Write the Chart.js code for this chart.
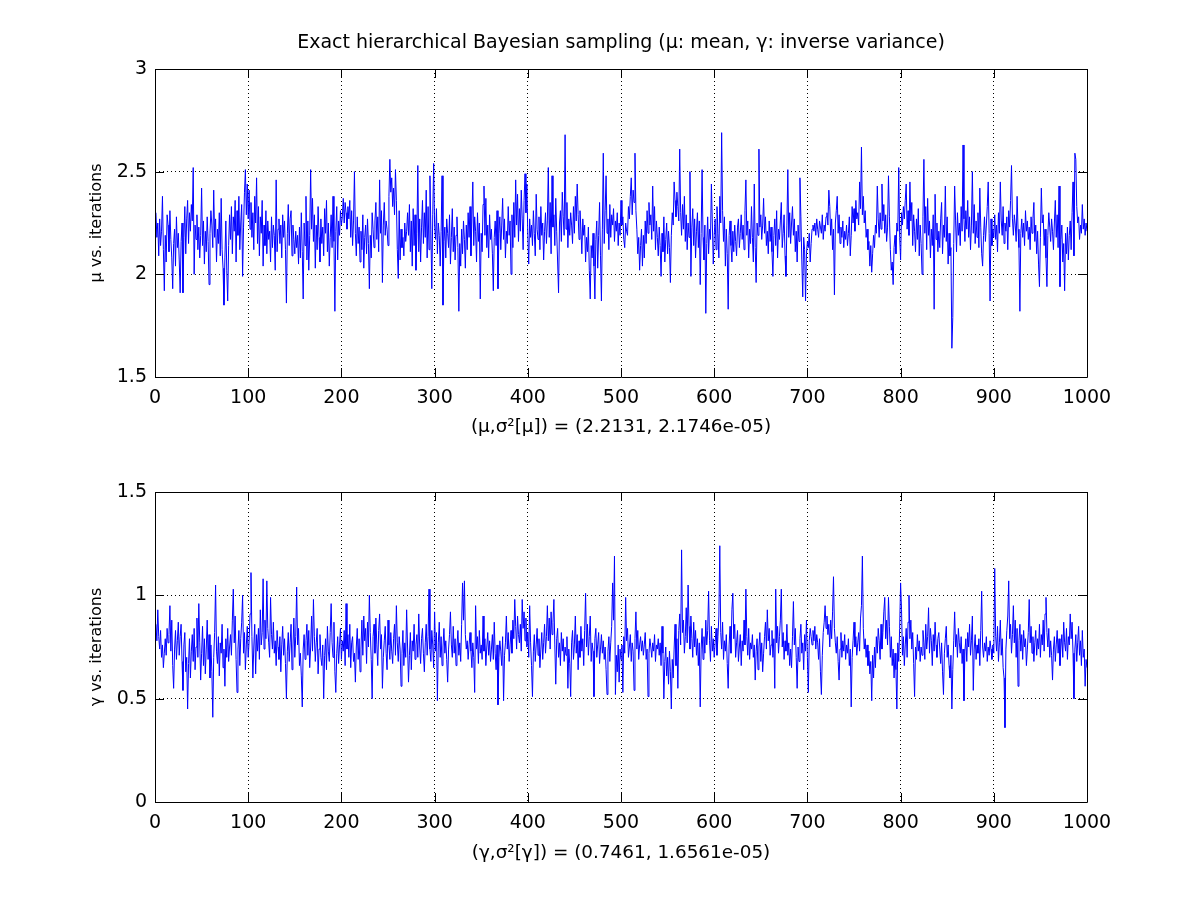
<!DOCTYPE html>
<html>
<head>
<meta charset="utf-8">
<title>Exact hierarchical Bayesian sampling</title>
<script src="https://cdn.jsdelivr.net/npm/chart.js@4.4.0/dist/chart.umd.min.js"></script>
<style>
    html, body { margin: 0; padding: 0; background: #ffffff; }
    #wrap { position: relative; width: 1200px; height: 901px; background: #ffffff; overflow: hidden; }
    canvas { position: absolute; left: 0; }
    #muChart { top: 0; }
    #gammaChart { top: 450px; }
</style>
</head>
<body>
<div id="wrap">
    <canvas id="muChart" width="1200" height="450"></canvas>
    <canvas id="gammaChart" width="1200" height="425"></canvas>
</div>
<script>
// Tick labels
const iterTicks = [0, 100, 200, 300, 400, 500, 600, 700, 800, 900, 1000];
const muTicks = [1.5, 2, 2.5, 3];
const gammaTicks = [0, 0.5, 1, 1.5];

// Text
const mainTitle = 'Exact hierarchical Bayesian sampling (\u03bc: mean, \u03b3: inverse variance)';
const muYLabel = '\u03bc vs. iterations';
const muXLabel = '(\u03bc,\u03c3\u00b2[\u03bc]) = (2.2131, 2.1746e-05)';
const gammaYLabel = '\u03b3 vs. iterations';
const gammaXLabel = '(\u03b3,\u03c3\u00b2[\u03b3]) = (0.7461, 1.6561e-05)';

// mu samples, iterations 1..1000
const muValues = [
    2.30,2.18,2.25,2.09,2.27,2.14,2.21,2.38,2.12,1.92,2.19,2.06,2.29,2.24,2.11,2.31,2.17,2.08,1.93,2.15,
    2.22,2.04,2.28,2.13,2.20,2.07,1.91,2.16,2.25,1.91,2.18,2.33,2.10,2.27,2.36,2.15,2.30,2.21,2.34,2.26,
    2.52,2.00,2.24,2.17,2.29,2.12,2.23,2.08,2.19,2.42,2.14,2.26,2.05,2.21,2.11,2.28,2.16,1.95,2.20,2.31,
    2.24,2.13,2.41,2.18,2.27,2.06,2.22,2.15,2.30,2.09,2.37,2.12,2.03,1.85,2.08,2.26,2.02,1.87,2.14,2.29,
    2.17,2.33,2.10,2.28,2.21,2.36,2.06,2.31,2.19,2.38,2.12,2.25,2.34,1.99,2.23,2.40,2.51,2.29,2.44,2.27,
    2.41,2.22,2.35,2.18,2.30,2.12,2.38,2.25,2.47,2.15,2.33,2.09,2.28,2.20,2.36,2.04,2.24,2.14,2.31,2.10,
    2.26,2.17,2.21,2.06,2.28,2.13,2.24,2.19,2.02,2.46,2.11,2.22,2.27,2.15,2.24,2.08,2.29,2.18,2.26,2.12,
    1.86,2.20,2.34,2.14,2.27,2.31,2.09,2.24,2.17,2.10,2.21,2.13,2.19,2.05,2.23,2.08,2.30,2.11,1.88,2.25,
    2.14,2.38,2.07,2.26,2.02,2.19,2.51,2.22,2.37,2.16,2.29,2.03,2.24,2.12,2.33,2.18,2.06,2.27,2.15,2.23,
    2.09,2.32,2.20,2.36,2.11,2.25,2.04,2.18,2.29,2.13,2.38,2.16,1.82,2.21,2.33,2.07,2.26,2.19,2.31,2.24,
    2.28,2.37,2.25,2.35,2.30,2.22,2.33,2.27,2.36,2.18,2.31,2.14,2.26,2.50,2.20,2.09,2.28,2.15,2.23,2.06,
    2.21,2.12,2.29,2.03,2.18,2.24,2.10,2.27,2.15,1.93,2.19,2.08,2.30,2.22,2.13,2.26,2.35,2.17,2.28,2.11,
    2.46,2.20,2.31,1.96,2.24,2.35,2.19,2.26,2.22,2.14,2.38,2.56,2.40,2.47,2.33,2.42,2.29,2.51,2.36,2.12,
    1.98,2.31,2.07,2.22,2.13,2.18,2.09,2.25,2.16,2.21,2.30,2.19,2.34,2.11,2.26,2.04,2.32,2.14,2.29,2.02,
    2.20,2.53,2.11,2.27,2.06,2.23,2.36,2.15,2.30,2.18,2.41,2.08,2.33,2.12,2.48,2.22,1.93,2.29,2.54,2.24,
    2.17,2.32,2.10,2.25,2.19,2.04,2.21,2.48,1.85,2.16,2.23,2.08,2.27,2.20,2.13,2.29,2.05,2.18,2.32,2.11,
    2.23,2.07,2.19,2.28,2.13,1.82,2.15,2.04,2.22,2.10,2.26,2.17,2.03,2.24,2.12,2.30,2.18,2.33,2.09,2.27,
    2.45,2.14,2.28,2.21,2.06,2.30,2.16,2.25,1.88,2.20,2.11,2.34,2.43,2.19,2.37,2.13,2.24,2.08,2.29,2.17,
    2.22,2.10,1.92,2.18,2.26,2.14,2.31,1.93,2.20,2.28,2.12,2.24,2.37,2.17,2.27,2.08,2.21,2.15,2.33,2.19,
    2.26,2.00,2.29,2.13,2.35,2.18,2.46,2.24,2.39,2.16,2.32,2.21,2.41,2.27,2.12,2.36,2.49,2.30,2.44,2.19,
    2.05,2.27,2.18,2.24,2.14,2.31,2.20,2.09,2.39,2.22,2.17,2.28,2.12,2.33,2.19,2.25,2.07,2.21,2.30,2.15,
    2.26,2.52,2.18,2.35,2.10,2.48,2.23,2.29,2.14,2.37,2.21,2.06,1.91,2.25,2.31,2.16,2.40,2.28,2.19,2.68,
    2.22,2.35,2.13,2.27,2.19,2.30,2.24,2.15,2.33,2.20,2.38,2.26,2.44,2.29,2.17,2.31,2.22,2.10,2.27,2.19,
    2.24,2.06,2.18,2.11,2.23,2.02,1.88,2.14,2.08,2.20,2.04,1.88,2.17,2.26,2.03,2.19,2.35,2.09,1.87,2.22,
    2.59,2.15,2.31,2.48,2.20,2.27,2.12,2.34,2.18,2.29,2.24,2.32,2.16,2.26,2.21,2.30,2.14,2.25,2.19,2.36,
    2.24,2.28,2.17,2.13,2.25,2.21,2.19,2.33,2.27,2.38,2.47,2.29,2.41,2.35,2.59,2.31,2.22,2.10,2.18,2.02,
    2.14,2.22,2.04,2.19,2.08,2.26,2.15,2.31,2.20,2.35,2.24,2.29,2.17,2.43,2.21,2.33,2.12,2.26,2.18,2.09,
    2.23,2.14,1.99,2.20,2.11,2.28,2.06,2.17,2.25,2.10,2.21,2.13,1.96,2.19,2.30,2.24,2.45,2.36,2.28,2.40,
    2.33,2.26,2.61,2.30,2.19,2.34,2.22,2.38,2.16,2.29,2.12,2.25,2.18,2.50,1.99,2.23,2.32,2.14,2.27,2.08,
    2.21,2.30,2.13,2.26,1.95,2.20,2.51,2.18,2.07,2.24,1.81,2.15,2.28,2.10,2.22,2.17,2.44,2.25,2.05,2.19,
    2.27,2.12,2.33,2.20,2.08,2.38,2.25,2.69,2.31,2.16,2.28,2.04,2.22,2.10,1.83,2.19,2.26,2.14,2.06,2.21,
    2.11,2.24,2.16,2.09,2.23,2.27,2.13,2.20,2.29,2.17,2.24,2.12,2.31,2.46,2.19,2.26,2.08,2.22,2.15,2.33,
    2.18,2.06,2.44,2.13,1.96,2.25,2.19,2.61,2.23,2.29,2.17,2.24,2.37,2.20,2.28,2.14,2.21,2.10,2.26,2.16,
    2.23,2.11,1.99,2.19,2.27,2.14,2.31,2.08,2.22,2.17,2.26,2.35,2.13,2.20,2.29,2.09,1.99,2.24,2.51,2.18,
    2.30,2.15,2.25,2.33,2.19,2.27,2.11,2.21,2.06,2.24,2.16,2.47,2.28,2.07,1.89,2.18,2.12,1.87,2.10,2.16,
    2.13,2.20,2.06,2.15,2.22,2.24,2.21,2.25,2.19,2.27,2.22,2.18,2.26,2.23,2.20,2.29,2.17,2.24,2.21,2.28,
    2.30,2.24,2.41,2.33,2.19,2.27,2.12,2.22,1.90,2.25,2.31,2.38,2.20,2.29,2.15,2.23,2.18,2.26,2.13,2.21,
    2.17,2.24,2.14,2.20,2.28,2.09,2.19,2.33,2.25,2.32,2.21,2.36,2.27,2.30,2.24,2.45,2.32,2.62,2.29,2.38,
    2.25,2.31,2.18,2.22,2.12,2.16,2.04,2.14,2.01,2.10,2.19,2.13,2.24,2.20,2.43,2.27,2.18,2.30,2.22,2.44,
    2.26,2.34,2.20,2.29,2.16,2.23,2.48,2.28,2.12,2.02,2.06,1.95,2.13,2.19,2.10,2.25,2.21,2.52,2.18,2.07,
    2.30,2.24,2.33,2.27,2.36,2.44,2.22,2.31,2.19,2.45,2.26,2.35,2.14,2.29,2.21,2.11,2.27,2.17,2.32,2.09,
    2.24,2.15,2.00,2.28,2.56,2.20,2.33,2.12,2.37,2.19,2.26,2.08,2.22,2.14,2.29,1.83,2.39,2.17,2.25,2.11,
    2.21,2.13,2.27,2.35,2.10,2.24,2.18,2.43,2.16,2.28,2.05,2.20,2.09,2.13,1.64,1.79,2.15,2.43,2.26,2.11,
    2.30,2.19,2.25,2.14,2.33,2.21,2.63,2.27,2.16,2.31,2.22,2.36,2.18,2.28,2.12,2.24,2.50,2.20,2.34,2.15,
    2.26,2.18,2.30,2.13,2.42,2.23,2.10,2.04,2.19,2.28,2.16,2.24,2.33,2.45,2.20,1.87,2.27,2.14,2.22,2.18,
    2.29,2.17,2.24,2.11,2.30,2.20,2.45,2.26,2.19,2.33,2.15,2.25,2.21,2.28,2.12,2.31,2.23,2.36,2.53,2.27,
    2.19,2.29,2.24,2.16,2.38,2.22,2.13,1.82,2.20,2.27,2.18,2.25,2.14,2.31,2.21,2.26,2.17,2.23,2.12,2.28,
    2.20,2.27,2.35,2.16,2.24,2.10,2.21,2.05,1.94,2.18,2.42,2.25,2.29,2.14,2.22,2.08,1.94,2.19,2.30,2.23,
    2.16,2.27,2.21,2.12,2.25,2.36,2.18,2.29,2.13,2.43,1.94,2.17,2.24,2.06,2.15,1.92,2.20,2.10,2.23,2.07,
    2.19,2.26,2.12,2.30,2.45,2.09,2.59,2.56,2.33,2.25,2.28,2.17,2.24,2.20,2.34,2.22,2.27,2.19,2.25,2.21
];

// gamma samples, iterations 1..1000
const gammaValues = [
    0.86,0.78,0.93,0.80,0.74,0.83,0.70,0.76,0.65,0.72,0.79,0.71,0.84,0.77,0.81,0.95,0.73,0.88,0.66,0.55,
    0.74,0.83,0.69,0.78,0.87,0.71,0.80,0.86,0.68,0.54,0.76,0.82,0.63,0.70,0.45,0.67,0.79,0.60,0.73,0.81,
    0.68,0.84,0.64,0.75,0.89,0.70,0.96,0.77,0.59,0.72,0.85,0.66,0.79,0.62,0.74,0.88,0.69,0.81,0.60,0.76,
    0.63,0.41,0.70,0.82,1.05,0.73,0.67,0.80,0.61,0.77,0.72,0.86,0.65,0.74,0.56,0.79,0.70,0.84,0.68,0.75,
    0.81,0.71,0.88,1.03,0.77,0.90,0.69,0.53,0.74,0.83,0.66,0.79,0.87,1.00,0.72,0.82,0.64,0.76,0.85,0.70,
    0.78,0.91,1.11,0.80,0.60,0.75,0.86,0.62,0.81,0.73,0.84,0.69,0.93,0.76,0.82,1.08,0.74,0.88,0.79,1.07,
    0.84,0.77,0.70,0.99,0.81,0.74,0.87,0.72,0.78,0.66,0.83,0.75,0.69,0.80,0.63,0.76,0.85,0.71,0.79,0.67,
    0.50,0.73,0.82,0.68,0.77,0.86,0.64,0.75,0.89,0.70,0.80,1.04,0.76,0.84,0.66,0.72,0.61,0.46,0.74,0.81,
    0.69,0.78,0.86,0.71,0.83,0.65,0.75,0.90,0.73,0.98,0.80,0.68,0.77,0.84,0.62,0.74,0.81,0.70,0.66,0.76,
    0.50,0.71,0.79,0.64,0.85,0.73,0.68,0.82,0.96,0.77,0.70,0.87,0.63,0.53,0.72,0.80,0.67,0.76,0.84,0.69,
    0.78,0.73,0.83,0.66,0.96,0.74,0.81,0.70,0.86,0.65,0.77,0.80,0.68,0.72,0.58,0.75,0.84,0.69,0.79,0.63,
    0.74,0.88,0.71,0.90,0.78,0.84,0.67,0.87,0.75,1.00,0.82,0.69,0.50,0.80,0.86,0.72,0.89,0.76,0.66,0.83,
    0.91,0.74,0.81,0.55,0.70,0.78,0.85,0.72,0.64,0.88,0.76,0.69,0.82,0.73,0.67,0.79,0.86,0.71,0.95,0.77,
    0.68,0.80,0.74,0.56,0.72,0.83,0.66,0.77,0.70,0.93,0.75,0.58,0.71,0.82,0.64,0.78,0.73,0.86,0.69,0.76,
    0.81,0.70,0.91,0.75,0.67,0.79,0.84,0.72,0.63,0.77,0.86,0.71,0.80,1.03,0.74,0.68,0.83,0.76,0.65,0.92,
    0.73,0.82,0.49,0.77,0.87,0.70,0.80,0.66,0.75,0.84,0.72,0.78,0.69,0.58,0.74,0.81,0.92,0.76,0.70,0.85,
    0.72,0.79,0.66,0.75,0.83,0.71,0.77,0.68,0.86,1.06,0.88,1.07,0.81,0.74,0.78,0.69,0.76,0.82,0.73,0.65,
    0.77,0.70,0.53,0.95,0.74,0.80,0.67,0.83,0.72,0.76,0.69,0.90,0.73,0.79,0.66,0.75,0.82,0.71,0.78,0.68,
    0.74,0.81,0.69,0.87,0.72,0.64,0.76,0.47,0.70,0.78,0.73,0.66,0.80,0.49,0.71,0.77,0.90,0.74,0.82,0.68,
    0.76,0.83,0.72,0.88,0.79,0.98,0.85,0.74,0.90,0.81,0.77,0.86,0.73,0.98,0.84,0.92,0.78,0.89,0.75,0.82,
    0.70,0.95,0.77,0.66,0.51,0.73,0.81,0.68,0.76,0.84,0.71,0.79,0.65,0.74,0.82,0.69,0.77,0.86,0.72,0.80,
    0.95,0.78,0.89,0.74,0.92,0.81,0.87,0.98,0.76,0.57,0.79,0.84,0.70,0.77,0.66,0.82,0.73,0.79,0.68,0.75,
    0.71,0.80,0.55,0.74,0.67,0.51,0.77,0.83,0.69,0.76,0.90,0.72,0.81,0.64,0.78,0.70,0.85,0.73,0.79,0.66,
    0.83,1.01,0.75,0.86,0.71,0.80,0.90,0.68,0.77,0.73,0.51,0.79,0.84,0.70,0.76,0.82,0.67,0.74,0.81,0.72,
    0.78,0.69,0.75,0.64,0.52,0.73,0.80,0.68,0.77,0.85,1.06,0.88,1.19,0.52,0.71,0.63,0.76,0.58,0.74,0.69,
    0.76,0.53,0.80,0.72,0.99,0.78,0.84,0.70,0.75,0.81,0.68,0.77,0.73,0.54,0.79,0.92,0.74,0.83,0.69,0.76,
    0.80,0.73,0.78,0.71,0.76,0.82,0.69,0.74,0.51,0.72,0.79,0.75,0.70,0.77,0.73,0.81,0.68,0.76,0.74,0.79,
    0.71,0.77,0.66,0.85,0.72,0.50,0.68,0.75,0.61,0.70,0.57,0.73,0.63,0.45,0.69,0.60,0.74,0.86,0.66,0.79,
    0.55,0.83,0.91,0.76,1.22,0.82,0.88,0.72,0.80,0.94,0.77,1.05,0.85,0.74,0.90,0.79,0.70,0.87,0.75,0.83,
    0.71,0.79,0.66,0.77,0.46,0.74,0.84,0.69,0.80,0.72,0.88,0.76,0.83,1.02,0.78,0.68,0.85,0.73,0.79,0.70,
    0.77,0.84,0.71,0.80,0.90,1.24,0.82,0.74,0.87,0.69,0.78,0.73,0.81,0.67,0.55,0.76,0.85,0.72,0.93,1.01,
    0.79,0.86,0.70,0.77,0.83,0.68,0.75,0.81,0.66,0.78,0.73,0.88,0.76,1.03,0.80,0.71,0.84,0.69,0.77,0.74,
    0.81,0.70,0.76,0.59,0.73,0.79,0.64,0.75,0.82,0.68,0.77,0.63,0.72,0.80,0.87,0.74,0.93,0.78,0.84,0.71,
    0.76,0.83,0.70,0.79,0.55,1.03,0.77,0.85,0.72,0.80,0.88,1.03,0.75,0.82,0.69,0.78,0.73,0.86,0.71,0.77,
    0.66,0.74,0.65,0.80,0.97,0.76,0.84,0.70,0.55,0.75,0.68,0.79,0.86,0.72,0.77,0.64,0.81,0.73,0.88,0.70,
    0.53,0.78,0.84,0.80,0.76,0.83,0.78,0.85,0.74,0.81,0.77,0.69,0.79,0.63,0.52,0.71,0.82,0.87,0.95,0.84,
    0.90,0.81,0.86,0.75,0.88,0.79,0.92,1.09,0.84,0.77,0.72,0.80,0.68,0.59,0.74,0.82,0.70,0.78,0.73,0.81,
    0.69,0.76,0.72,0.79,0.66,0.74,0.46,0.70,0.78,0.87,0.75,0.80,0.71,0.77,0.82,0.73,0.89,0.95,1.19,0.84,
    0.74,0.79,0.70,0.76,0.66,0.73,0.62,0.68,0.49,0.71,0.60,0.75,0.65,0.80,0.72,0.84,0.78,0.69,0.86,0.74,
    0.82,0.92,0.99,0.79,0.88,0.76,0.99,0.85,0.70,0.80,0.66,0.74,0.60,0.72,0.64,0.45,0.77,0.68,0.84,1.06,
    0.93,0.71,0.80,0.66,0.76,0.84,0.70,0.87,1.00,0.79,0.88,0.74,0.82,0.67,0.51,0.75,0.69,0.81,0.73,0.78,
    0.68,0.75,0.71,0.83,0.77,0.69,0.86,0.74,0.80,0.94,0.72,0.84,0.78,0.66,0.81,0.73,0.87,0.76,0.70,0.79,
    0.82,0.74,0.67,0.77,0.63,0.52,0.72,0.79,0.85,0.70,0.76,0.66,0.60,0.71,0.45,0.64,0.78,0.92,0.75,0.81,
    0.70,0.84,0.77,0.72,0.80,0.67,0.74,0.49,0.73,0.79,0.68,0.82,0.75,0.86,0.71,0.78,0.90,0.54,0.74,0.81,
    0.69,0.76,0.72,0.79,0.66,0.83,1.02,0.75,0.70,0.77,0.73,0.80,0.68,0.75,0.71,0.78,0.74,0.69,0.76,0.72,
    1.13,0.80,0.73,0.85,0.68,0.77,0.88,0.71,0.79,0.65,0.60,0.36,0.74,0.83,0.90,1.07,0.79,0.86,0.72,0.81,
    0.95,0.77,0.88,0.70,0.84,0.56,0.78,0.86,0.73,0.81,0.69,0.83,0.75,0.79,0.66,0.74,0.82,0.98,0.77,0.85,
    0.72,0.80,0.68,0.77,0.83,0.71,0.79,0.74,0.86,0.70,0.81,0.76,0.88,0.73,0.91,0.99,0.82,0.75,0.84,0.70,
    0.78,0.71,0.59,0.74,0.80,0.68,0.76,0.83,0.72,0.79,0.66,0.75,0.81,0.70,0.87,0.77,0.73,0.84,0.69,0.80,
    0.76,0.91,0.79,0.87,0.72,0.50,0.74,0.81,0.68,0.77,0.85,0.71,0.78,0.66,0.83,0.70,0.74,0.56,0.69,0.65
];

const FONT = 'DejaVu Sans';

// Box around the axes with MATLAB style inward tick marks
const boxPlugin = {
    id: 'matlabBox',
    afterDatasetsDraw(chart) {
        const { ctx, chartArea: a, scales } = chart;
        const len = 9;
        ctx.save();
        ctx.strokeStyle = '#000000';
        ctx.lineWidth = 1;
        ctx.beginPath();
        ctx.rect(a.left + 0.5, a.top + 0.5, a.right - a.left, a.bottom - a.top);
        scales.x.ticks.forEach(t => {
            const px = Math.round(scales.x.getPixelForValue(t.value)) + 0.5;
            ctx.moveTo(px, a.bottom);
            ctx.lineTo(px, a.bottom - len);
            ctx.moveTo(px, a.top);
            ctx.lineTo(px, a.top + len);
        });
        scales.y.ticks.forEach(t => {
            const py = Math.round(scales.y.getPixelForValue(t.value)) + 0.5;
            ctx.moveTo(a.left, py);
            ctx.lineTo(a.left + len, py);
            ctx.moveTo(a.right, py);
            ctx.lineTo(a.right - len, py);
        });
        ctx.stroke();
        ctx.restore();
    }
};

function buildChart(canvasId, values, yTicks, yLabel, xLabel, cfg) {
    const points = values.map((v, i) => ({ x: i + 1, y: v }));
    return new Chart(document.getElementById(canvasId), {
        type: 'line',
        data: {
            datasets: [{
                data: points,
                borderColor: '#0000ff',
                borderWidth: 1,
                pointRadius: 0,
                tension: 0,
                fill: false
            }]
        },
        options: {
            responsive: false,
            animation: false,
            devicePixelRatio: 1,
            layout: { padding: { left: 0, right: 113, top: cfg.padTop, bottom: 0 } },
            plugins: {
                legend: { display: false },
                tooltip: { enabled: false },
                title: {
                    display: !!cfg.title,
                    text: cfg.title || '',
                    fullSize: false,
                    color: '#000000',
                    font: { family: FONT, size: 19, weight: 'normal' },
                    padding: { top: 31.6, bottom: 14.6 }
                }
            },
            scales: {
                x: {
                    type: 'linear',
                    min: 0,
                    max: 1000,
                    afterBuildTicks: s => { s.ticks = iterTicks.map(v => ({ value: v })); },
                    afterFit: s => { s.height = 73; },
                    grid: { color: '#000000', lineWidth: 1, drawTicks: false },
                    border: { display: false, dash: [1, 3] },
                    ticks: {
                        color: '#000000',
                        padding: 10,
                        maxRotation: 0,
                        font: { family: FONT, size: 19 },
                        callback: v => String(v)
                    },
                    title: {
                        display: true,
                        text: xLabel,
                        color: '#000000',
                        font: { family: FONT, size: 18.4 },
                        padding: { top: 0, bottom: cfg.xTitleBottom }
                    }
                },
                y: {
                    type: 'linear',
                    min: yTicks[0],
                    max: yTicks[yTicks.length - 1],
                    afterBuildTicks: s => { s.ticks = yTicks.map(v => ({ value: v })); },
                    afterFit: s => { s.width = 155; },
                    grid: { color: '#000000', lineWidth: 1, drawTicks: false },
                    border: { display: false, dash: [1, 3] },
                    ticks: {
                        color: '#000000',
                        padding: 8,
                        font: { family: FONT, size: 19 },
                        callback: v => String(v)
                    },
                    title: {
                        display: true,
                        text: yLabel,
                        color: '#000000',
                        font: { family: FONT, size: 16 },
                        padding: { top: 87, bottom: 0 }
                    }
                }
            }
        },
        plugins: [boxPlugin]
    });
}

buildChart('muChart', muValues, muTicks, muYLabel, muXLabel,
    { title: mainTitle, padTop: 0, xTitleBottom: 12 });
buildChart('gammaChart', gammaValues, gammaTicks, gammaYLabel, gammaXLabel,
    { title: null, padTop: 42, xTitleBottom: 11 });
</script>
</body>
</html>
